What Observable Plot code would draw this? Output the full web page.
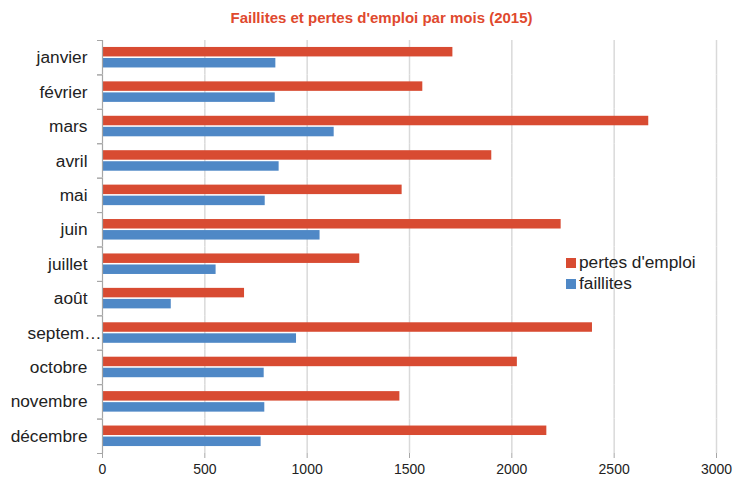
<!DOCTYPE html>
<html>
<head>
<meta charset="utf-8">
<script src="https://cdn.jsdelivr.net/npm/d3@7"></script>
<script src="https://cdn.jsdelivr.net/npm/@observablehq/plot@0.6"></script>
<style>
  html, body { margin: 0; padding: 0; background: #fff; }
  body { width: 737px; height: 481px; position: relative; overflow: hidden; font-family: "Liberation Sans", Arial, sans-serif; }
  #title { height: 34px; line-height: 36px; text-align: center; padding-left: 26px; font-weight: bold; font-size: 15px; color: #E0492E; }
  #chart svg { display: block; }
  #legend { position: absolute; left: 566px; top: 252px; font-size: 17.3px; color: #222; line-height: 21px; }
  #legend .it { display: flex; align-items: center; }
  #legend .sw { width: 10px; height: 10px; margin-right: 3px; }
</style>
</head>
<body>
<div id="title">Faillites et pertes d'emploi par mois (2015)</div>
<div id="chart"></div>
<div id="legend"></div>
<script>
const months = ["janvier", "février", "mars", "avril", "mai", "juin", "juillet", "août", "septembre", "octobre", "novembre", "décembre"];
const pertesEmploi = [1712, 1565, 2669, 1902, 1464, 2241, 1257, 694, 2394, 2027, 1453, 2171];
const faillites = [847, 844, 1132, 863, 795, 1063, 555, 336, 948, 790, 793, 775];
const seriesNames = ["pertes d'emploi", "faillites"];
const seriesColors = ["#D84B32", "#4F88C6"];
const xTicks = [0, 500, 1000, 1500, 2000, 2500, 3000];

const rows = [];
months.forEach((m, i) => {
  rows.push({month: m, series: seriesNames[0], value: pertesEmploi[i]});
  rows.push({month: m, series: seriesNames[1], value: faillites[i]});
});

const MAXLEN = 8;
const isLong = m => m.length > MAXLEN;
const fmtMonth = m => isLong(m) ? m.slice(0, 6) + "…" : m;
const shortMonths = months.filter(m => !isLong(m));
const longMonths = months.filter(isLong);

const W = 737, H = 447, MT = 6, MB = 28;
const step = (H - MT - MB) / months.length;

const chart = Plot.plot({
  width: W,
  height: H,
  marginTop: MT,
  marginBottom: MB,
  marginLeft: 102,
  marginRight: 21,
  style: {fontFamily: "'Liberation Sans', Arial, sans-serif", fontSize: "14px", color: "#222"},
  x: {domain: [0, 3000], ticks: xTicks, label: null, axis: null},
  y: {domain: seriesNames, axis: null, paddingInner: 0.14, paddingOuter: 0.63, round: false},
  fy: {domain: months, padding: 0, label: null, axis: null, round: false},
  color: {domain: seriesNames, range: seriesColors},
  marks: [
    Plot.gridX(xTicks.filter(d => d > 0), {stroke: "#d9d9d9", strokeOpacity: 1, strokeWidth: 1.5}),
    Plot.barX(rows, {fy: "month", y: "series", x: "value", fill: "series"}),
    Plot.ruleX([0], {stroke: "#a6a6a6", strokeWidth: 1.2}),
    Plot.axisFy({anchor: "left", ticks: shortMonths, tickSize: 0, tickPadding: 15, fontSize: 17.3, tickFormat: fmtMonth, label: null}),
    Plot.axisFy({anchor: "left", ticks: longMonths, tickSize: 0, tickPadding: 1, fontSize: 17.3, tickFormat: fmtMonth, label: null}),
    Plot.axisFy({anchor: "left", tickSize: 5, tickFormat: () => "", label: null, stroke: "#a6a6a6", dy: -step / 2}),
    Plot.axisFy({anchor: "left", tickSize: 5, tickFormat: () => "", label: null, stroke: "#a6a6a6", dy: step / 2}),
    Plot.axisX({ticks: xTicks, anchor: "bottom", tickSize: 5, tickPadding: 6, fontSize: 14, stroke: "#a6a6a6", label: null, tickFormat: d => String(d)}),
    Plot.ruleY([0], {frameAnchor: "bottom", fy: [months[months.length - 1]], x1: 0, x2: 3000, stroke: "#a6a6a6", strokeWidth: 1.2})
  ]
});
document.getElementById("chart").appendChild(chart);

const leg = document.getElementById("legend");
seriesNames.forEach((s, i) => {
  const it = document.createElement("div");
  it.className = "it";
  const sw = document.createElement("span");
  sw.className = "sw";
  sw.style.background = seriesColors[i];
  const tx = document.createElement("span");
  tx.textContent = s;
  it.appendChild(sw);
  it.appendChild(tx);
  leg.appendChild(it);
});
</script>
</body>
</html>
